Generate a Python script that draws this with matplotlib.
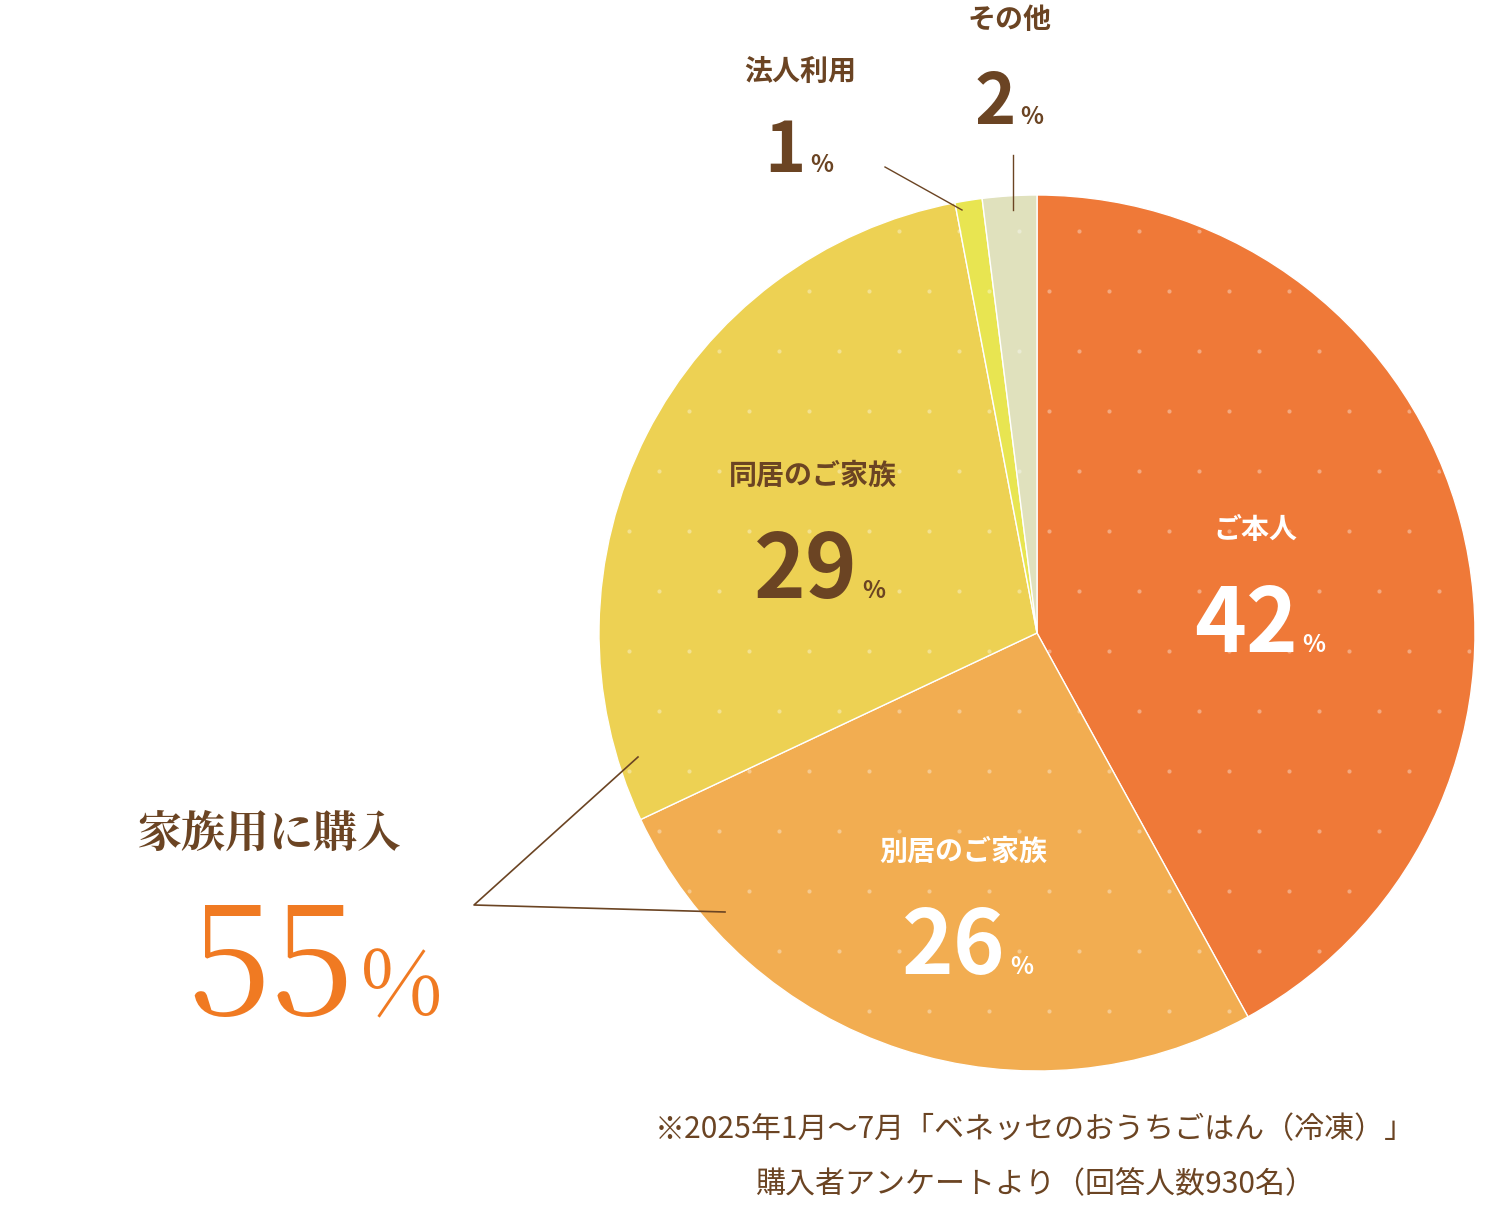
import matplotlib.pyplot as plt
import numpy as np
from matplotlib.patches import Circle

labels = ["ご本人", "別居のご家族", "同居のご家族", "法人利用", "その他"]
values = [42, 26, 29, 1, 2]
colors = ["#EF7938", "#F2AD51", "#EDD153", "#E8E551", "#E0E1BD"]

W, H = 1508, 1206
BROWN = "#6B4423"
FONT = "Noto Sans CJK JP"

fig = plt.figure(figsize=(W / 100, H / 100), dpi=100)
ax = fig.add_axes([0, 0, 1, 1])
ax.set_xlim(0, W)
ax.set_ylim(0, H)
ax.set_aspect("equal")
ax.axis("off")

cx, cy, r = 1037, H - 633, 438
wedges, _ = ax.pie(values, colors=colors, startangle=90, counterclock=False,
                   center=(cx, cy), radius=r, frame=True,
                   wedgeprops=dict(edgecolor="white", linewidth=1))
ax.set_xlim(0, W)
ax.set_ylim(0, H)
ax.axis("off")

# dot pattern
xs, ys = [], []
for j, y in enumerate(np.arange(cy - r, cy + r + 60, 60)):
    off = 0 if j % 2 == 0 else 30
    for x in np.arange(cx - r - 60 + off, cx + r + 60, 60):
        xs.append(x)
        ys.append(y)
dots = ax.scatter(xs, ys, s=9, color="white", alpha=0.35, zorder=3, linewidths=0)
clip = Circle((cx, cy), r - 3, transform=ax.transData)
dots.set_clip_path(clip)

def label(x, y, name, pct, color, nsize=26, psize=62):
    ax.text(x, H - y, name, ha="center", va="center", fontsize=nsize * 0.72,
            color=color, fontweight="bold", family=FONT, zorder=5)

def pct(x, y, num, color, size=62):
    t = ax.text(x, H - y, num, ha="right", va="baseline", fontsize=size * 0.72,
                color=color, fontweight="bold", family=FONT, zorder=5)
    ax.text(x + 4, H - y, "%", ha="left", va="baseline", fontsize=24 * 0.72,
            color=color, fontweight="bold", family=FONT, zorder=5)

label(1255, 530, labels[0], None, "white", 28)
pct(1298, 652, f"{values[0]}", "white", 88)
label(963, 852, labels[1], None, "white", 28)
pct(1006, 974, f"{values[1]}", "white", 88)
label(813, 476, labels[2], None, BROWN, 28)
pct(858, 598, f"{values[2]}", BROWN, 88)
label(800, 72, labels[3], None, BROWN, 28)
pct(806, 172, f"{values[3]}", BROWN, 70)
label(1010, 20, labels[4], None, BROWN, 28)
pct(1016, 124, f"{values[4]}", BROWN, 70)

ax.plot([885, 962], [H - 167, H - 210], color=BROWN, lw=1)
ax.plot([1013, 1013], [H - 155, H - 210], color=BROWN, lw=1)
ax.plot([638, 474, 725], [H - 757, H - 905, H - 912], color=BROWN, lw=1.2)

ax.text(270, H - 835, "家族用に購入", ha="center", va="center", fontsize=44 * 0.72,
        color=BROWN, family="Noto Serif CJK JP", fontweight="bold")
ax.text(355, H - 1015, "55", ha="right", va="baseline", fontsize=150 * 0.72,
        color="#F07A22", family="Noto Serif CJK JP")
ax.text(360, H - 1015, "%", ha="left", va="baseline", fontsize=90 * 0.72,
        color="#F07A22", family="Noto Serif CJK JP")

ax.text(1035, H - 1130, "※2025年1月〜7月「ベネッセのおうちごはん（冷凍）」",
        ha="center", va="center", fontsize=30 * 0.72, color=BROWN, family=FONT)
ax.text(1035, H - 1185, "購入者アンケートより（回答人数930名）",
        ha="center", va="center", fontsize=30 * 0.72, color=BROWN, family=FONT)

fig.savefig("out.png", dpi=100, facecolor="white")
